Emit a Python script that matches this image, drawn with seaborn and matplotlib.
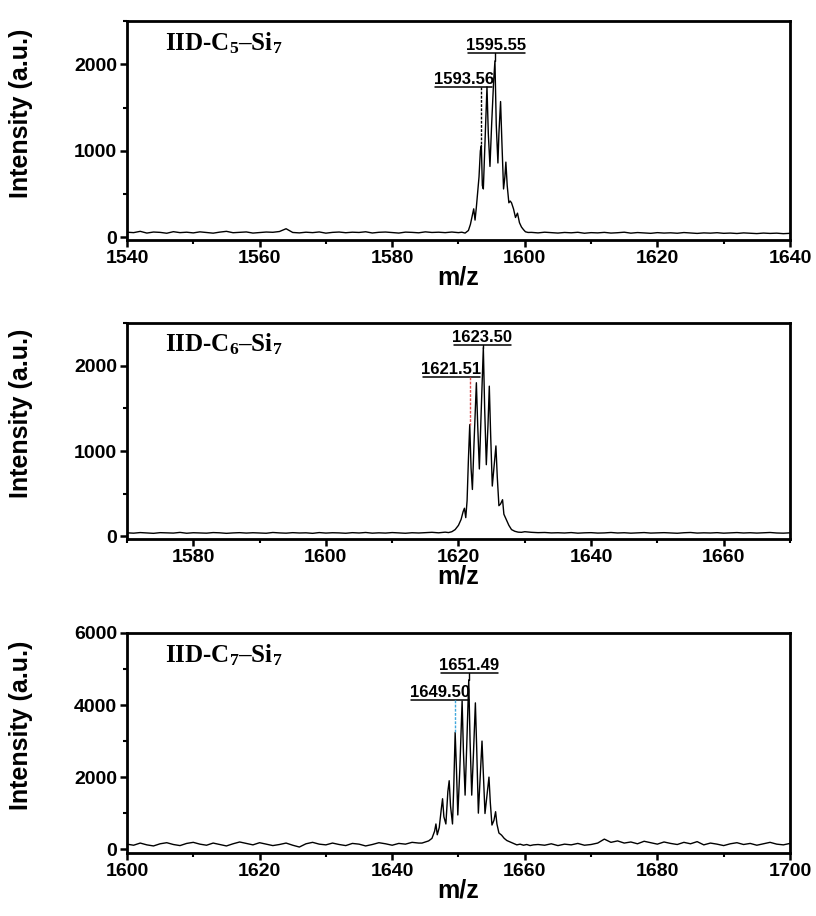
import numpy as np
import pandas as pd
import matplotlib
matplotlib.use("Agg")
import matplotlib.pyplot as plt
import seaborn as sns
from matplotlib.ticker import MultipleLocator

sns.set_theme(style="ticks")
plt.rcParams["font.family"] = ["Liberation Sans", "DejaVu Sans"]
plt.rcParams["mathtext.fontset"] = "custom"
plt.rcParams["mathtext.rm"] = "Liberation Serif:bold"
plt.rcParams["mathtext.it"] = "Liberation Serif:bold"
plt.rcParams["mathtext.bf"] = "Liberation Serif:bold"
for key in ["text.color", "axes.labelcolor", "xtick.color", "ytick.color", "axes.edgecolor"]:
    plt.rcParams[key] = "black"

# ---- panel 1: IID-C5-Si7 ----
c5_base_left = [60, 55, 70, 50, 62, 58, 48, 66, 55, 60,
                52, 64, 57, 49, 61, 70, 54, 58, 63, 50,
                56, 62, 59, 68, 100, 57, 52, 60, 55, 63,
                49, 58, 62, 54, 60, 57, 65, 51, 59, 62,
                56, 50, 61, 58, 53, 64, 57, 60, 55, 62]          # 1540..1589
c5_peak_mz = [1589.5, 1590.0, 1590.5, 1591.0, 1591.5, 1591.8, 1592.1, 1592.3,
              1592.5, 1592.7, 1592.9, 1593.1, 1593.3, 1593.45, 1593.6, 1593.75,
              1594.0, 1594.3, 1594.5, 1594.75, 1595.0, 1595.3, 1595.5, 1595.7,
              1595.95, 1596.1, 1596.35, 1596.55, 1596.8, 1597.0, 1597.15, 1597.35,
              1597.6, 1597.8, 1598.0, 1598.3, 1598.6, 1598.9, 1599.2, 1599.5,
              1599.8, 1600.1, 1600.5]
c5_peak_int = [58, 55, 60, 50, 80, 150, 260, 330,
               200, 350, 520, 700, 1000, 1060, 600, 560,
               1100, 1740, 1200, 820, 1300, 1800, 2040, 1300,
               860, 1200, 1570, 1100, 560, 700, 870, 600,
               400, 420, 400, 330, 230, 280, 170, 120,
               90, 65, 57]
c5_base_right = [58, 52, 60, 55, 50, 57, 53, 59, 48, 55,
                 52, 58, 50, 54, 60, 49, 56, 52, 47, 55,
                 50, 53, 48, 56, 51, 46, 52, 49, 54, 47,
                 50, 45, 52, 48, 44, 50, 46, 49, 43, 47]        # 1601..1640

# ---- panel 2: IID-C6-Si7 ----
c6_base_left = [42, 38, 45, 40, 36, 44, 41, 39, 47, 37,
                43, 40, 38, 45, 42, 36, 41, 44, 39, 43,
                40, 37, 46, 41, 38, 44, 40, 42, 36, 45,
                39, 43, 41, 37, 44, 40, 46, 38, 42, 39,
                45, 41, 37, 43, 40, 44, 48, 42, 50]             # 1570..1618
c6_peak_mz = [1618.5, 1619.0, 1619.5, 1620.0, 1620.4, 1620.7, 1620.9, 1621.1,
              1621.3, 1621.5, 1621.7, 1621.9, 1622.1, 1622.35, 1622.7, 1622.9,
              1623.15, 1623.4, 1623.75, 1623.95, 1624.2, 1624.45, 1624.65, 1624.85,
              1625.1, 1625.35, 1625.65, 1625.85, 1626.1, 1626.35, 1626.65, 1626.85,
              1627.2, 1627.6, 1628.0, 1628.5, 1629.0, 1629.5]
c6_peak_int = [45, 55, 80, 130, 200, 290, 330, 220,
               420, 900, 1310, 800, 550, 1100, 1800, 1300,
               790, 1400, 2210, 1500, 840, 1300, 1760, 1200,
               590, 800, 1060, 700, 360, 380, 430, 260,
               200, 130, 80, 60, 50, 48]
c6_base_right = [55, 48, 44, 46, 41, 43, 40, 45, 38, 42,
                 44, 39, 41, 46, 40, 43, 38, 42, 45, 39,
                 41, 44, 40, 37, 43, 46, 39, 42, 40, 44,
                 38, 41, 45, 40, 43, 39, 42, 46, 40, 38, 42]    # 1630..1670

# ---- panel 3: IID-C7-Si7 ----
c7_base_left = [140, 110, 170, 120, 90, 150, 180, 130, 100, 160,
                190, 140, 110, 170, 130, 90, 150, 200, 160, 120,
                180, 140, 100, 130, 170, 110, 60, 150, 190, 140,
                120, 170, 130, 100, 160, 140, 90, 130, 180, 150,
                110, 160, 140, 190, 170]                         # 1600..1644
c7_peak_mz = [1644.5, 1645.0, 1645.5, 1646.0, 1646.4, 1646.6, 1646.8, 1647.1,
              1647.4, 1647.6, 1647.8, 1648.1, 1648.4, 1648.6, 1648.8, 1649.1,
              1649.3, 1649.5, 1649.7, 1649.9, 1650.2, 1650.55, 1650.75, 1651.0,
              1651.25, 1651.55, 1651.75, 1652.0, 1652.25, 1652.55, 1652.75, 1653.0,
              1653.25, 1653.55, 1653.75, 1654.0, 1654.3, 1654.6, 1654.8, 1655.05,
              1655.35, 1655.6, 1655.8, 1656.1, 1656.5, 1656.9, 1657.3, 1657.8,
              1658.3, 1658.8, 1659.3, 1659.8, 1660.3, 1660.8, 1661.3]
c7_peak_int = [170, 200, 230, 300, 500, 700, 400, 600,
               1100, 1400, 900, 700, 1600, 1900, 1200, 700,
               1800, 3240, 2200, 950, 2200, 4110, 2700, 1500,
               2900, 4700, 3000, 1500, 2600, 4060, 2800, 1000,
               1900, 3000, 2100, 990, 1500, 2000, 1300, 670,
               800, 1040, 700, 450, 390, 300, 240, 200,
               160, 120, 140, 110, 130, 100, 120]
c7_base_right = [130, 110, 150, 100, 140, 120, 160, 110, 130, 170,
                 280, 190, 230, 170, 200, 150, 220, 180, 140, 200,
                 160, 130, 190, 150, 210, 120, 170, 140, 100, 150,
                 180, 130, 160, 110, 150, 190, 140, 120, 160]    # 1662..1700

titles = [r"IID-C$_5$–Si$_7$", r"IID-C$_6$–Si$_7$", r"IID-C$_7$–Si$_7$"]
xlims = [(1540, 1640), (1570, 1670), (1600, 1700)]
ylims = [(-30, 2500), (-30, 2500), (-100, 6000)]
ymajor = [1000, 1000, 2000]
yminor = [500, 500, 1000]

# labelled peaks: (text, peak m/z, underline level, underline from, underline to, style, colour)
peak_labels = [
    [("1595.55", 1595.5, 2126, 1591.4, 1600.0, "-", "black"),
     ("1593.56", 1593.45, 1739, 1586.5, 1595.1, "--", "black")],
    [("1623.50", 1623.75, 2246, 1619.3, 1627.9, "-", "black"),
     ("1621.51", 1621.7, 1868, 1614.6, 1623.3, "--", "#e05050")],
    [("1651.49", 1651.55, 4887, 1647.4, 1655.9, "-", "black"),
     ("1649.50", 1649.5, 4153, 1642.8, 1651.6, "--", "#40a8dc")],
]


def build_spectrum(lo, base_left, peak_mz, peak_int, base_right):
    mz_left = lo + np.arange(len(base_left))
    mz_right = np.ceil(peak_mz[-1]) + np.arange(len(base_right))
    return pd.DataFrame({
        "mz": np.concatenate([mz_left, peak_mz, mz_right]),
        "intensity": np.concatenate([base_left, peak_int, base_right]),
    })


spectra = [
    build_spectrum(1540, c5_base_left, c5_peak_mz, c5_peak_int, c5_base_right),
    build_spectrum(1570, c6_base_left, c6_peak_mz, c6_peak_int, c6_base_right),
    build_spectrum(1600, c7_base_left, c7_peak_mz, c7_peak_int, c7_base_right),
]

fig = plt.figure(figsize=(8.16, 9.16), dpi=100)
positions = [
    [0.1556, 0.738, 0.8125, 0.239],
    [0.1556, 0.4116, 0.8125, 0.2358],
    [0.1556, 0.0690, 0.8125, 0.2400],
]

for i, df in enumerate(spectra):
    ax = fig.add_axes(positions[i])
    sns.lineplot(data=df, x="mz", y="intensity", ax=ax, color="black",
                 linewidth=1.0, estimator=None, sort=False)
    ax.set_xlim(*xlims[i])
    ax.set_ylim(*ylims[i])
    ax.xaxis.set_major_locator(MultipleLocator(20))
    ax.xaxis.set_minor_locator(MultipleLocator(10))
    ax.yaxis.set_major_locator(MultipleLocator(ymajor[i]))
    ax.yaxis.set_minor_locator(MultipleLocator(yminor[i]))
    ax.tick_params(which="major", direction="out", length=5, width=1.8,
                   labelsize=14, pad=2, top=False, right=False)
    ax.tick_params(which="minor", direction="out", length=3, width=1.5,
                   top=False, right=False)
    for lab in ax.get_xticklabels() + ax.get_yticklabels():
        lab.set_fontweight("bold")
    for sp in ax.spines.values():
        sp.set_linewidth(2.0)
    ax.set_xlabel("m/z", fontsize=18, fontweight="bold", labelpad=-1)
    ax.set_ylabel("Intensity (a.u.)", fontsize=18, fontweight="bold")
    ax.yaxis.set_label_coords(-0.142, 0.58)
    ax.text(0.057, 0.90, titles[i], transform=ax.transAxes, fontsize=18,
            va="center", ha="left", family="Liberation Serif", fontweight="bold")

    for text, pmz, level, u0, u1, ls, col in peak_labels[i]:
        top = df.loc[(df["mz"] - pmz).abs().idxmin(), "intensity"]
        ax.plot([u0, u1], [level, level], color="black", linewidth=1.1)
        ax.plot([pmz, pmz], [level, top], color=col, linestyle=ls,
                linewidth=1.0, dashes=(2, 1) if ls == "--" else (None, None))
        ax.text((u0 + u1) / 2, level, text, ha="center", va="bottom",
                fontsize=12, fontweight="bold",
                family=["Liberation Sans Narrow", "Liberation Sans"])

fig.savefig("out.png", dpi=100)
